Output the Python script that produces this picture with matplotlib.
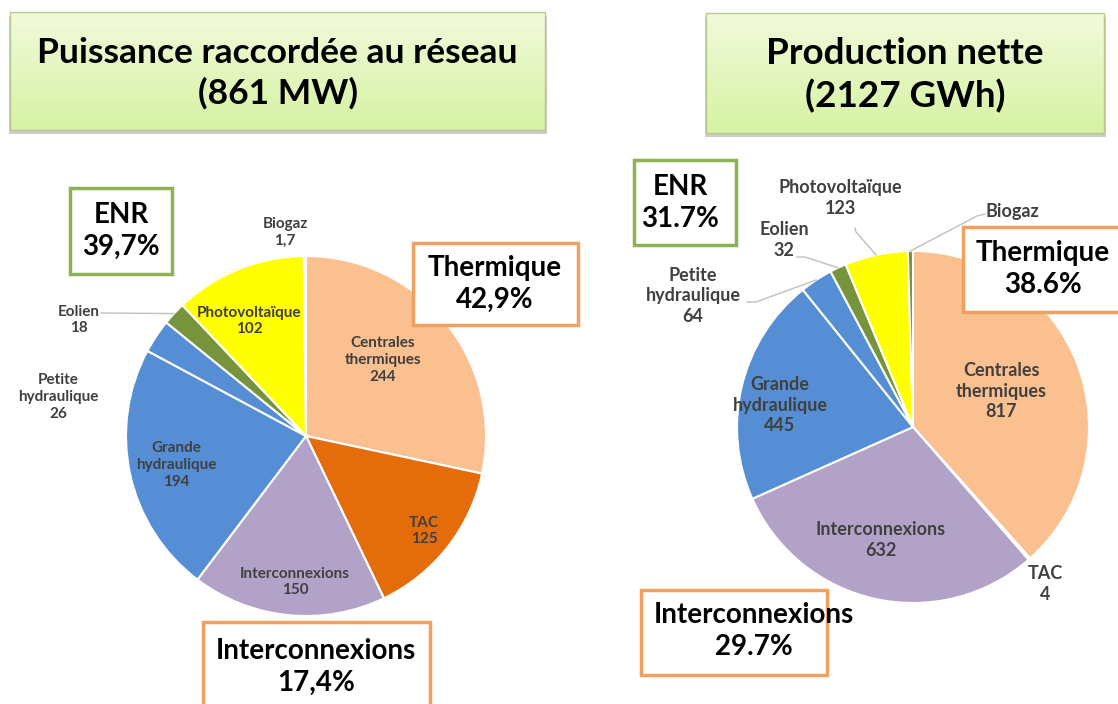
import numpy as np
import matplotlib
matplotlib.use("Agg")
import matplotlib.pyplot as plt
from matplotlib.patches import Rectangle

plt.rcParams['font.family'] = ['Lato', 'DejaVu Sans']

# data
categories = ["Centrales\nthermiques", "TAC", "Interconnexions", "Grande\nhydraulique",
              "Petite\nhydraulique", "Eolien", "Photovoltaïque", "Biogaz"]
puissance_mw = [244, 125, 150, 194, 26, 18, 102, 1.7]
puissance_labels = ["244", "125", "150", "194", "26", "18", "102", "1,7"]
production_gwh = [817, 4, 632, 445, 64, 32, 123, 10]
production_labels = ["817", "4", "632", "445", "64", "32", "123", ""]

colors = ["#FAC090", "#E46C0A", "#B3A2C7", "#558ED5", "#558ED5", "#77933C", "#FFFF00", "#77933C"]

W, H = 1118, 704
fig = plt.figure(figsize=(W / 100, H / 100), dpi=100)
ax = fig.add_axes([0, 0, 1, 1])


def Y(y):
    return H - y


def title_box(x0, y0, x1, y1, text, size):
    # shadow
    ax.add_patch(Rectangle((x0 - 1, Y(y1 + 4)), x1 - x0 + 3, y1 - y0, facecolor="#9a9a9a",
                           edgecolor="none", alpha=0.5, zorder=1))
    grad = np.linspace(0, 1, 64).reshape(-1, 1)
    top = np.array([0.95, 0.98, 0.86])
    bot = np.array([0.84, 0.95, 0.64])
    img = top + (bot - top) * grad[:, :, None]
    rect = Rectangle((x0, Y(y1)), x1 - x0, y1 - y0, facecolor="none",
                     edgecolor="#b7c98e", linewidth=1, zorder=3)
    ax.add_patch(rect)
    im = ax.imshow(img, extent=(x0, x1, Y(y1), Y(y0)), aspect="auto", zorder=2)
    im.set_clip_path(rect)
    ax.text((x0 + x1) / 2, Y((y0 + y1) / 2 + 2), text, ha="center", va="center",
            fontsize=size, fontweight="bold", color="black", linespacing=1.3, zorder=4)


def note_box(x0, y0, x1, y1, text, edge, tx, ty):
    ax.add_patch(Rectangle((x0, Y(y1)), x1 - x0, y1 - y0, facecolor="white",
                           edgecolor=edge, linewidth=2.5, zorder=5))
    ax.text(tx, Y(ty), text, ha="center", va="center", fontsize=20,
            fontweight="bold", color="black", linespacing=1.25, zorder=6)


def draw_pie(values, cx, cy, r):
    wedges, _ = ax.pie(values, colors=colors, startangle=90, counterclock=False,
                       center=(cx, Y(cy)), radius=r,
                       wedgeprops=dict(edgecolor="white", linewidth=1.5))
    return wedges


def edge_point(w, frac=1.0):
    ang = np.deg2rad((w.theta1 + w.theta2) / 2)
    return w.center[0] + w.r * frac * np.cos(ang), w.center[1] + w.r * frac * np.sin(ang)


lbl_color = "#404040"

# left pie
wl = draw_pie(puissance_mw, 306, 436, 180)
left_pos = [(383, 360), (424, 531), (295, 582), (176, 465), (58, 397), (79, 320), (249, 321), (285, 232)]
for name, val, (x, y) in zip(categories, puissance_labels, left_pos):
    ax.text(x, Y(y), name + "\n" + val, ha="center", va="center", fontsize=11,
            fontweight="bold", color=lbl_color, linespacing=1.25, zorder=7)
ex, ey = edge_point(wl[5])
ax.plot([101, ex], [Y(313), ey], color="#bfbfbf", lw=1, zorder=7)

# right pie
wr = draw_pie(production_gwh, 913, 427, 176)
right_pos = [(1001, 391), (1045, 584), (881, 540), (780, 405), (693, 296), (784, 240), (840, 198), (1012, 212)]
for name, val, (x, y) in zip(categories, production_labels, right_pos):
    txt = name + ("\n" + val if val else "")
    ax.text(x, Y(y), txt, ha="center", va="center", fontsize=13,
            fontweight="bold", color=lbl_color, linespacing=1.25, zorder=7)
for i, pts in [(4, [(747, 302), (756, 302)]), (5, [(797, 257), (805, 257)]),
               (6, [(855, 228), (856, 232)]), (7, [(985, 214), (977, 216)])]:
    ex, ey = edge_point(wr[i])
    xs = [p[0] for p in pts] + [ex]
    ys = [Y(p[1]) for p in pts] + [ey]
    ax.plot(xs, ys, color="#bfbfbf", lw=1, zorder=7)

# titles
title_box(10, 12, 545, 130, "Puissance raccordée au réseau\n(861 MW)", 25.5)
title_box(706, 13, 1104, 133, "Production nette\n(2127 GWh)", 26.5)

green_edge = "#8DB255"
orange_edge = "#F0A060"
note_box(70, 188, 172, 274, "ENR\n39,7%", green_edge, 121, 231)
note_box(413, 243, 578, 325, "Thermique\n42,9%", orange_edge, 495, 284)
note_box(203, 622, 430, 712, "Interconnexions\n17,4%", orange_edge, 316, 667)
note_box(634, 160, 736, 245, "ENR\n31.7%", green_edge, 680, 203)
note_box(963, 227, 1130, 312, "Thermique\n38.6%", orange_edge, 1043, 269)
note_box(641, 590, 827, 675, "Interconnexions\n29.7%", orange_edge, 754, 631)

ax.set_xlim(0, W)
ax.set_ylim(0, H)
ax.set_aspect("equal")
ax.axis("off")

fig.savefig("out.png", dpi=100)
